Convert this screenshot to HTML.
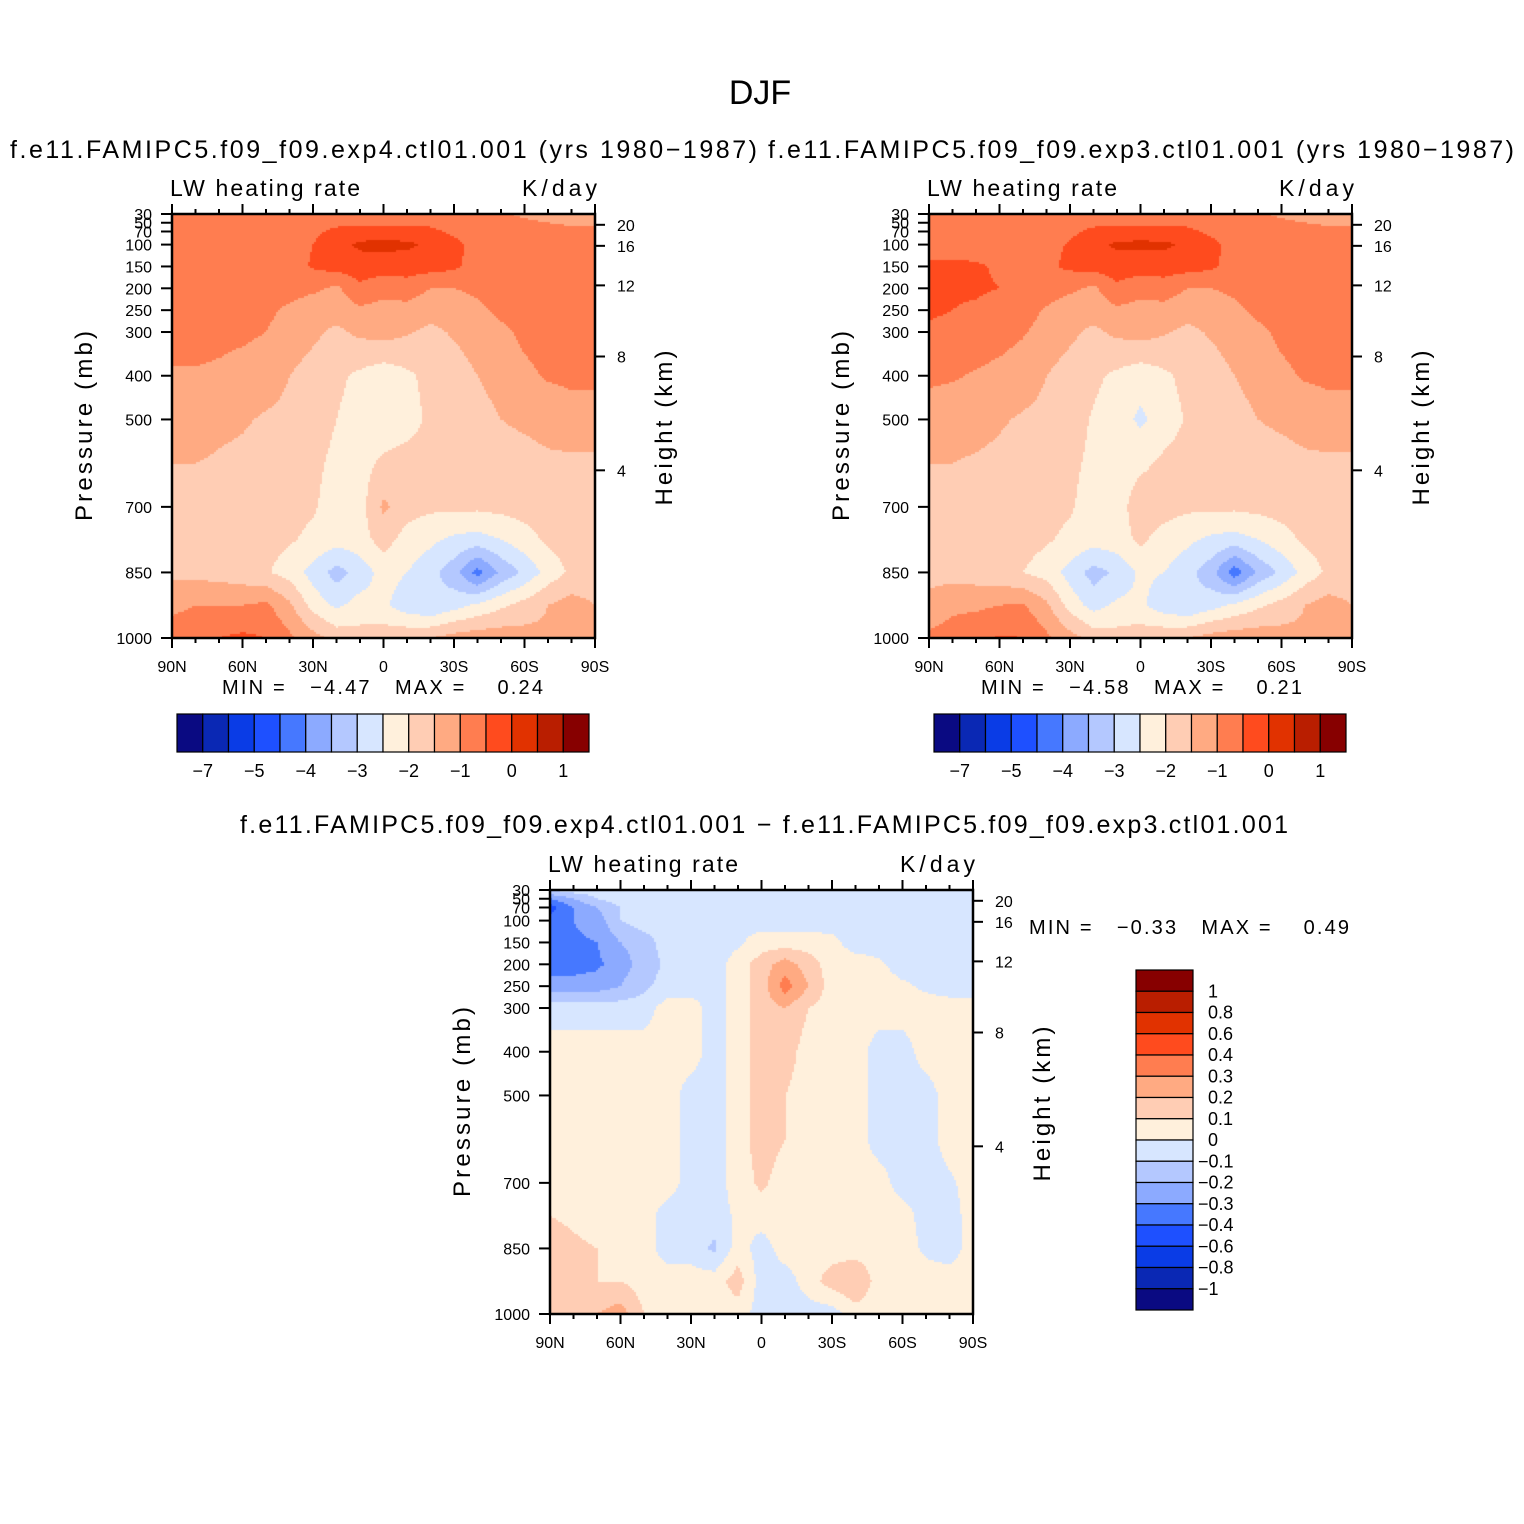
<!DOCTYPE html>
<html><head><meta charset="utf-8">
<style>
body{margin:0;background:#fff;}
#wrap{position:relative;width:1524px;height:1524px;overflow:hidden;background:#fff;}
canvas{position:absolute;}
svg{position:absolute;left:0;top:0;}
text{font-family:"Liberation Sans",sans-serif;fill:#000;}
</style></head>
<body>
<div id="wrap">
<canvas id="c1" style="left:172px;top:214px" width="423" height="424"></canvas>
<canvas id="c2" style="left:929px;top:214px" width="423" height="424"></canvas>
<canvas id="c3" style="left:550px;top:890px" width="423" height="424"></canvas>
<svg id="s" width="1524" height="1524">
<text x="760" y="104" font-size="34" text-anchor="middle">DJF</text>
<text x="10" y="158" font-size="25" textLength="747">f.e11.FAMIPC5.f09_f09.exp4.ctl01.001 (yrs 1980−1987)</text>
<text x="768" y="158" font-size="25" textLength="746">f.e11.FAMIPC5.f09_f09.exp3.ctl01.001 (yrs 1980−1987)</text>
<text x="240" y="833" font-size="25" textLength="1048">f.e11.FAMIPC5.f09_f09.exp4.ctl01.001 − f.e11.FAMIPC5.f09_f09.exp3.ctl01.001</text>
<text x="222" y="694" font-size="20" textLength="321" xml:space="preserve">MIN =   −4.47   MAX =    0.24</text>
<text x="981" y="694" font-size="20" textLength="321" xml:space="preserve">MIN =   −4.58   MAX =    0.21</text>
<text x="1029" y="934" font-size="20" textLength="320" xml:space="preserve">MIN =   −0.33   MAX =    0.49</text>
</svg>
</div>
<script>
const pLevels=[30,50,70,100,150,200,250,300,400,500,600,700,775,850,925,1000];
const latLabels=["90N","60N","30N","0","30S","60S","90S"];
const pTicks=[30,50,70,100,150,200,250,300,400,500,700,850,1000];
const hTicks=[4,8,12,16,20];
const levelsTop=[-7,-6,-5,-4.5,-4,-3.5,-3,-2.5,-2,-1.5,-1,-0.5,0,0.5,1];
const levelsDiff=[-1,-0.8,-0.6,-0.4,-0.3,-0.2,-0.1,0,0.1,0.2,0.3,0.4,0.6,0.8,1];
const topCbLabels=["−7","−5","−4","−3","−2","−1","0","1"];
const topCbIdx=[0,2,4,6,8,10,12,14];
const diffCbLabels=["1","0.8","0.6","0.4","0.3","0.2","0.1","0","−0.1","−0.2","−0.3","−0.4","−0.6","−0.8","−1"];
const colors=["#0a0a82","#0a28b4","#0a3ce6","#1e50ff","#4678ff","#8caaff","#b4c8ff","#d7e6ff","#fff0dc","#ffcdb4","#ffaa82","#ff7d50","#ff4b1e","#e13200","#b91e00","#870000"];

const exp4=[
[-0.7,-0.7,-0.7,-0.7,-0.7,-0.7,-0.7,-0.7,-0.7,-0.7,-0.7,-0.7,-0.7,-0.8,-0.9,-1.1,-1.2,-1.2,-1.2],
[-0.7,-0.7,-0.7,-0.7,-0.7,-0.7,-0.7,-0.6,-0.6,-0.6,-0.6,-0.6,-0.7,-0.7,-0.8,-0.9,-1.0,-1.1,-1.1],
[-0.7,-0.7,-0.7,-0.7,-0.7,-0.7,-0.6,-0.4,-0.3,-0.3,-0.3,-0.4,-0.6,-0.7,-0.7,-0.8,-0.8,-0.8,-0.8],
[-0.7,-0.7,-0.7,-0.7,-0.7,-0.7,-0.5,-0.2,0.1,0.15,0.1,-0.1,-0.35,-0.7,-0.7,-0.7,-0.7,-0.7,-0.7],
[-0.7,-0.7,-0.7,-0.7,-0.7,-0.7,-0.45,-0.3,-0.25,-0.3,-0.3,-0.3,-0.4,-0.7,-0.7,-0.7,-0.7,-0.7,-0.7],
[-0.8,-0.8,-0.8,-0.8,-0.8,-0.8,-0.9,-1.1,-0.6,-0.8,-0.7,-1.0,-1.0,-0.9,-0.8,-0.8,-0.7,-0.7,-0.7],
[-0.8,-0.8,-0.8,-0.85,-0.9,-1.1,-1.3,-1.3,-1.1,-1.2,-1.2,-1.35,-1.3,-1.1,-0.9,-0.8,-0.7,-0.7,-0.7],
[-0.8,-0.8,-0.85,-0.9,-1.0,-1.2,-1.4,-1.6,-1.4,-1.3,-1.45,-1.6,-1.45,-1.3,-1.1,-0.9,-0.8,-0.7,-0.7],
[-1.05,-1.05,-1.1,-1.2,-1.3,-1.5,-1.7,-1.9,-2.1,-2.3,-2.1,-1.85,-1.7,-1.5,-1.3,-1.1,-0.95,-0.9,-0.9],
[-1.3,-1.3,-1.4,-1.45,-1.55,-1.6,-1.8,-2.0,-2.2,-2.35,-2.2,-1.9,-1.8,-1.7,-1.5,-1.4,-1.3,-1.2,-1.2],
[-1.5,-1.5,-1.55,-1.6,-1.7,-1.75,-1.9,-2.1,-2.2,-1.9,-1.8,-1.8,-1.8,-1.8,-1.75,-1.7,-1.6,-1.6,-1.6],
[-1.6,-1.6,-1.65,-1.7,-1.75,-1.85,-1.95,-2.2,-2.2,-1.4,-1.8,-1.9,-1.9,-1.9,-1.85,-1.8,-1.75,-1.7,-1.7],
[-1.7,-1.7,-1.75,-1.8,-1.85,-1.95,-2.1,-2.3,-2.2,-1.8,-2.2,-2.4,-2.6,-2.7,-2.5,-2.2,-1.9,-1.8,-1.8],
[-1.6,-1.65,-1.7,-1.8,-1.95,-2.2,-2.7,-3.2,-2.8,-2.3,-2.5,-2.8,-3.3,-4.2,-3.4,-2.9,-2.3,-1.9,-1.8],
[-1.1,-1.0,-1.0,-1.0,-0.9,-1.4,-2.2,-2.6,-2.3,-2.4,-2.8,-3.0,-2.7,-2.4,-2.1,-1.8,-1.5,-1.3,-1.5],
[-0.8,-0.7,-0.5,-0.4,-0.5,-0.9,-1.3,-1.7,-1.8,-1.7,-1.6,-1.5,-1.3,-1.2,-1.2,-1.3,-1.4,-1.4,-1.5]];

const exp3=[
[-0.7,-0.7,-0.7,-0.7,-0.7,-0.7,-0.7,-0.7,-0.7,-0.7,-0.7,-0.7,-0.7,-0.8,-0.9,-1.1,-1.2,-1.2,-1.2],
[-0.7,-0.7,-0.7,-0.7,-0.7,-0.7,-0.7,-0.6,-0.6,-0.6,-0.6,-0.6,-0.7,-0.7,-0.8,-0.9,-1.0,-1.1,-1.1],
[-0.7,-0.7,-0.7,-0.7,-0.7,-0.7,-0.6,-0.4,-0.3,-0.3,-0.3,-0.4,-0.6,-0.7,-0.7,-0.8,-0.8,-0.8,-0.8],
[-0.7,-0.7,-0.7,-0.7,-0.7,-0.65,-0.45,-0.2,0.1,0.12,0.1,-0.1,-0.35,-0.7,-0.7,-0.7,-0.7,-0.7,-0.7],
[-0.4,-0.4,-0.45,-0.55,-0.65,-0.6,-0.4,-0.3,-0.25,-0.3,-0.3,-0.3,-0.4,-0.7,-0.7,-0.7,-0.7,-0.7,-0.7],
[-0.45,-0.45,-0.45,-0.5,-0.6,-0.75,-0.9,-1.1,-0.6,-0.8,-0.7,-1.0,-1.0,-0.9,-0.8,-0.8,-0.7,-0.7,-0.7],
[-0.45,-0.5,-0.55,-0.65,-0.8,-1.05,-1.3,-1.3,-1.1,-1.2,-1.2,-1.35,-1.3,-1.1,-0.9,-0.8,-0.7,-0.7,-0.7],
[-0.55,-0.6,-0.7,-0.8,-0.95,-1.2,-1.4,-1.6,-1.4,-1.3,-1.45,-1.6,-1.45,-1.3,-1.1,-0.9,-0.8,-0.7,-0.7],
[-0.9,-0.95,-1.05,-1.15,-1.3,-1.5,-1.7,-1.9,-2.1,-2.3,-2.1,-1.85,-1.7,-1.5,-1.3,-1.1,-0.95,-0.9,-0.9],
[-1.25,-1.3,-1.35,-1.45,-1.55,-1.6,-1.8,-2.05,-2.25,-2.6,-2.25,-1.95,-1.8,-1.7,-1.5,-1.4,-1.3,-1.2,-1.2],
[-1.5,-1.5,-1.55,-1.6,-1.7,-1.75,-1.9,-2.1,-2.2,-2.1,-1.9,-1.8,-1.8,-1.8,-1.75,-1.7,-1.6,-1.6,-1.6],
[-1.6,-1.6,-1.65,-1.7,-1.75,-1.85,-1.95,-2.2,-2.2,-1.75,-1.8,-1.9,-1.9,-1.9,-1.85,-1.8,-1.75,-1.7,-1.7],
[-1.7,-1.7,-1.75,-1.8,-1.85,-1.95,-2.1,-2.3,-2.2,-1.9,-2.2,-2.4,-2.6,-2.7,-2.5,-2.2,-1.9,-1.8,-1.8],
[-1.7,-1.7,-1.75,-1.85,-2.0,-2.2,-2.7,-3.2,-2.9,-2.4,-2.5,-2.8,-3.3,-4.3,-3.4,-2.9,-2.3,-1.9,-1.8],
[-1.3,-1.1,-1.1,-1.0,-0.95,-1.4,-2.2,-2.7,-2.4,-2.4,-2.8,-3.0,-2.7,-2.4,-2.1,-1.8,-1.5,-1.3,-1.5],
[-0.9,-0.8,-0.6,-0.45,-0.5,-0.9,-1.3,-1.7,-1.8,-1.7,-1.6,-1.5,-1.3,-1.2,-1.2,-1.3,-1.4,-1.4,-1.5]];

const diff=[
[-0.1,-0.05,-0.05,-0.05,-0.05,-0.05,-0.05,-0.05,-0.05,-0.05,-0.05,-0.05,-0.05,-0.05,-0.05,-0.05,-0.05,-0.05,-0.05],
[-0.3,-0.2,-0.1,-0.05,-0.05,-0.05,-0.05,-0.05,-0.05,-0.05,-0.05,-0.05,-0.05,-0.05,-0.05,-0.05,-0.05,-0.05,-0.05],
[-0.45,-0.3,-0.2,-0.1,-0.05,-0.05,-0.05,-0.05,-0.05,-0.05,-0.05,-0.05,-0.05,-0.05,-0.05,-0.05,-0.05,-0.05,-0.05],
[-0.35,-0.3,-0.25,-0.1,-0.05,-0.05,-0.05,-0.05,-0.02,-0.05,-0.05,-0.05,-0.05,-0.05,-0.05,-0.05,-0.05,-0.05,-0.05],
[-0.35,-0.32,-0.3,-0.2,-0.15,-0.05,-0.05,-0.05,-0.02,0.05,0.05,0.05,0.03,-0.05,-0.05,-0.05,-0.05,-0.05,-0.05],
[-0.35,-0.35,-0.32,-0.25,-0.15,-0.08,-0.05,-0.05,0.05,0.15,0.25,0.15,0.05,0.05,0.02,-0.05,-0.05,-0.05,-0.05],
[-0.25,-0.25,-0.25,-0.2,-0.12,-0.06,-0.05,-0.05,0.05,0.15,0.35,0.2,0.05,0.05,0.05,0.02,-0.02,-0.05,-0.05],
[-0.05,-0.05,-0.05,-0.05,-0.05,0.05,0.05,-0.05,0.05,0.15,0.2,0.1,0.05,0.05,0.05,0.05,0.05,0.05,0.05],
[0.05,0.05,0.05,0.05,0.05,0.05,0.05,-0.05,0.05,0.15,0.15,0.05,0.05,0.05,-0.05,-0.05,0.05,0.05,0.05],
[0.05,0.05,0.05,0.05,0.05,0.05,-0.05,-0.05,0.05,0.15,0.1,0.05,0.05,0.05,-0.05,-0.05,-0.05,0.05,0.05],
[0.05,0.05,0.05,0.05,0.05,0.05,-0.05,-0.05,0.05,0.15,0.1,0.05,0.05,0.05,-0.05,-0.05,-0.05,0.05,0.05],
[0.05,0.05,0.05,0.05,0.05,0.05,-0.05,-0.05,0.05,0.12,0.05,0.05,0.05,0.05,0.05,-0.05,-0.05,-0.02,0.05],
[0.1,0.08,0.05,0.05,0.05,-0.05,-0.05,-0.05,0.02,0.05,0.05,0.05,0.05,0.05,0.05,0.05,-0.05,-0.05,0.05],
[0.15,0.12,0.1,0.05,0.05,-0.05,-0.05,-0.12,0.05,-0.05,0.05,0.05,0.05,0.05,0.05,0.05,-0.02,-0.05,0.05],
[0.15,0.15,0.1,0.1,0.05,0.05,0.05,0.05,0.15,-0.05,-0.05,0.05,0.15,0.2,0.05,0.05,0.05,0.05,0.05],
[0.15,0.1,0.2,0.25,0.1,0.05,0.05,0.05,0.05,-0.05,-0.05,-0.05,-0.05,0.05,0.05,0.05,0.05,0.05,0.05]];

const W=423,H=424;
const yOfP=p=>(p-30)/970*H;
const pOfY=y=>30+y/H*970;
const xOfLatIdx=i=>i/18*W;
function pOfZ(z){return z<=11?1013.25*Math.pow(1-2.2558e-2*z,5.256):226.3*Math.exp(-(z-11)/6.34);}
function colorFor(v,lv){let i=0;while(i<lv.length&&v>=lv[i])i++;return colors[i];}
function sample(d,u,p){
  let r=0;while(r<pLevels.length-2&&p>pLevels[r+1])r++;
  let t=(p-pLevels[r])/(pLevels[r+1]-pLevels[r]);t=Math.max(0,Math.min(1,t));
  let c=Math.min(17,Math.floor(u));let s=u-c;
  const a=d[r][c]*(1-s)+d[r][c+1]*s,b=d[r+1][c]*(1-s)+d[r+1][c+1]*s;
  return a*(1-t)+b*t;
}
function drawField(id,d,lv){
  const ctx=document.getElementById(id).getContext('2d');
  const st=2;
  for(let y=0;y<H;y+=st)for(let x=0;x<W;x+=st){
    const v=sample(d,(x+st/2)/W*18,pOfY(y+st/2));
    ctx.fillStyle=colorFor(v,lv);ctx.fillRect(x,y,st,st);
  }
}
drawField('c1',exp4,levelsTop);
drawField('c2',exp3,levelsTop);
drawField('c3',diff,levelsDiff);

const svg=document.getElementById('s');
const NS='http://www.w3.org/2000/svg';
function mk(tag,attrs,txt){const e=document.createElementNS(NS,tag);for(const k in attrs)e.setAttribute(k,attrs[k]);if(txt!==undefined)e.textContent=txt;svg.appendChild(e);return e;}

function axes(px,py,tag){
  let e;
  e=mk('rect',{x:px,y:py,width:W,height:H,fill:'none',stroke:'#000','stroke-width':2.5});
  
  
  for(let i=0;i<=18;i++){
    const x=px+xOfLatIdx(i),L=(i%3==0)?10:5;
    e=mk('line',{x1:x,y1:py,x2:x,y2:py-L,stroke:'#000','stroke-width':2});
    
    
    e=mk('line',{x1:x,y1:py+H,x2:x,y2:py+H+L,stroke:'#000','stroke-width':2});
    
    
  }
  latLabels.forEach((s,k)=>{
    e=mk('text',{x:px+xOfLatIdx(k*3),y:py+H+34,'font-size':16,'text-anchor':'middle'},s);
    
    
  });
  pTicks.forEach(p=>{
    const y=py+yOfP(p);
    e=mk('line',{x1:px,y1:y,x2:px-11,y2:y,stroke:'#000','stroke-width':2});
    
    
    e=mk('text',{x:px-20,y:y+6,'font-size':16,'text-anchor':'end'},String(p));
    
    
  });
  hTicks.forEach(z=>{
    const y=py+yOfP(pOfZ(z));
    e=mk('line',{x1:px+W,y1:y,x2:px+W+10,y2:y,stroke:'#000','stroke-width':2});
    
    
    e=mk('text',{x:px+W+22,y:y+6,'font-size':16},String(z));
    
    
  });
  e=mk('text',{x:px-2,y:py-18,'font-size':23,textLength:190},'LW heating rate');
  
  
  e=mk('text',{x:px+W-73,y:py-18,'font-size':23,textLength:75},'K/day');
  
  
  const cy=py+H/2;
  e=mk('text',{x:0,y:0,'font-size':24,'text-anchor':'middle',textLength:190,transform:`translate(${px-80},${cy}) rotate(-90)`},'Pressure (mb)');
  
  
  e=mk('text',{x:0,y:0,'font-size':24,'text-anchor':'middle',textLength:155,transform:`translate(${px+W+77},${cy+2}) rotate(-90)`},'Height (km)');
  
  
}
axes(172,214,'panel1');
axes(929,214,'panel2');
axes(550,890,'panel3');

function hbar(x0,tag){
  const y0=714,h=38,bw=412/16;let e;
  colors.forEach((c,i)=>{
    e=mk('rect',{x:x0+i*bw,y:y0,width:bw,height:h,fill:c,stroke:'#000','stroke-width':1.2});
    
    
  });
  topCbLabels.forEach((s,k)=>{
    e=mk('text',{x:x0+(topCbIdx[k]+1)*bw,y:777,'font-size':18,'text-anchor':'middle'},s);
    
    
  });
}
hbar(177,'panel1');
hbar(934,'panel2');

(function(){
  const x0=1136,y0=970,w=57,bh=340/16;let e;
  for(let i=0;i<16;i++){
    e=mk('rect',{x:x0,y:y0+i*bh,width:w,height:bh,fill:colors[15-i],stroke:'#000','stroke-width':1.2});
    
    
  }
  diffCbLabels.forEach((s,k)=>{
    const neg=s.startsWith('−');
    e=mk('text',{x:neg?1198:1208,y:y0+(k+1)*bh+6,'font-size':18},s);
    
    
  });
})();
</script>
</body></html>
